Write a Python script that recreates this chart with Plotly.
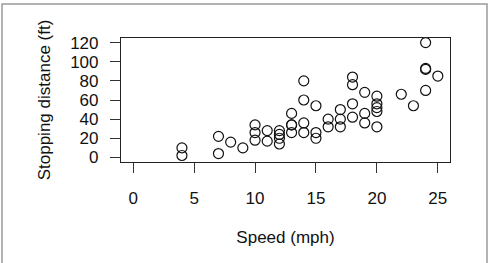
import plotly.graph_objects as go

speed = [4,4,7,7,8,9,10,10,10,11,11,12,12,12,12,13,13,13,13,14,14,14,14,15,15,15,16,16,17,17,17,18,18,18,18,19,19,19,20,20,20,20,20,22,23,24,24,24,24,25]
dist = [2,10,4,22,16,10,18,26,34,17,28,14,20,24,28,26,34,34,46,26,36,60,80,20,26,54,32,40,32,40,50,42,56,76,84,36,46,68,32,48,52,56,64,66,54,70,92,93,120,85]
x_ticks = [0, 5, 10, 15, 20, 25]
y_ticks = [0, 20, 40, 60, 80, 100, 120]

L, R, T, B = 121, 40, 38, 101
W, H = 490, 263
pw, ph = W - L - R, H - T - B

def px(xp):
    return (xp - L) / pw

def py(yp):
    return (H - B - yp) / ph

fig = go.Figure(go.Scatter(
    x=speed, y=dist, mode="markers",
    marker=dict(symbol="circle-open", size=10, color="#111", line=dict(width=1.2, color="#111")),
))

font = dict(family="Liberation Sans, Arial, sans-serif", size=17, color="#111")
fig.update_layout(
    width=W, height=H,
    margin=dict(l=L, r=R, t=T, b=B),
    paper_bgcolor="white", plot_bgcolor="white",
    font=font, showlegend=False,
    shapes=[dict(type="rect", xref="paper", yref="paper",
                 x0=px(2), x1=px(487), y0=py(275), y1=py(4),
                 line=dict(color="#999", width=1.5), fillcolor="rgba(0,0,0,0)", layer="below")],
)
fig.update_xaxes(
    range=[-1, 26], tickvals=x_ticks, ticks="outside", ticklen=10, tickwidth=1.2, tickcolor="#333",
    showline=True, linecolor="#222", linewidth=1.2, mirror=True, showgrid=False, zeroline=False,
    ticklabelstandoff=10, tickfont=font,
    title=dict(text="Speed (mph)", standoff=24, font=font),
)
fig.update_yaxes(
    range=[-4.8, 124.8], tickvals=y_ticks, ticks="outside", ticklen=10, tickwidth=1.2, tickcolor="#333",
    showline=True, linecolor="#222", linewidth=1.2, mirror=True, showgrid=False, zeroline=False,
    ticklabelstandoff=8, tickfont=font,
    title=dict(text="Stopping distance (ft)", standoff=15, font=font),
)
fig.write_html("out.html")
